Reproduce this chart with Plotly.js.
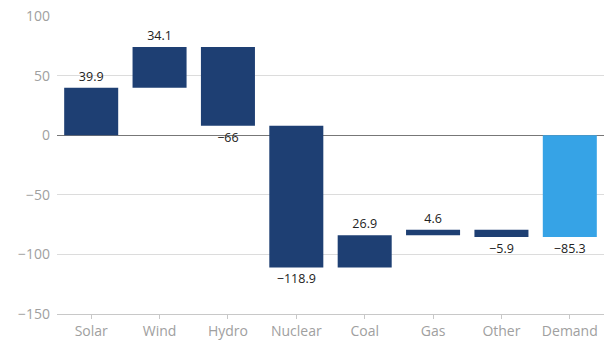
<!DOCTYPE html>
<html><head><meta charset="utf-8">
<script src="https://cdn.plot.ly/plotly-3.0.1.min.js"></script>
<style>html,body{margin:0;padding:0;background:#fff;}#chart{width:608px;height:342px;}</style>
</head><body><div id="chart"></div>
<script>
const categories = ["Solar","Wind","Hydro","Nuclear","Coal","Gas","Other","Demand"];
const values = [39.9, 34.1, -66, -118.9, 26.9, 4.6, -5.9, -85.3];
const measures = ["relative","relative","relative","relative","relative","relative","relative","total"];
const yTicks = [100, 50, 0, -50, -100, -150];

function fmt(v){ return v < 0 ? "\u2212" + Math.abs(v) : String(v); }

const trace = {
  type: "waterfall",
  x: categories,
  y: values,
  measure: measures,
  text: values.map(fmt),
  textposition: "outside",
  textfont: {family: "'Open Sans', sans-serif", size: 12.5, color: "#222"},
  cliponaxis: false,
  width: 0.79,
  connector: {visible: false},
  increasing: {marker: {color: "#1e3f73"}},
  decreasing: {marker: {color: "#1e3f73"}},
  totals: {marker: {color: "#36a3e6"}},
  hoverinfo: "none"
};

const layout = {
  width: 608, height: 342,
  margin: {l: 57, r: 4, t: 16, b: 28},
  paper_bgcolor: "#fff", plot_bgcolor: "#fff",
  showlegend: false,
  font: {family: "'Open Sans', sans-serif"},
  xaxis: {
    showgrid: false,
    showline: true, linecolor: "#c8c8c8", linewidth: 1,
    ticks: "outside", ticklen: 4, tickcolor: "#c8c8c8",
    tickfont: {size: 14, color: "#a0a0a0"},
    anchor: "y", position: 0
  },
  yaxis: {
    range: [-150, 100],
    tickvals: yTicks,
    ticktext: yTicks.map(fmt),
    showgrid: true, gridcolor: "#dcdcdc", gridwidth: 1,
    zeroline: true, zerolinecolor: "#777", zerolinewidth: 1.4,
    showline: false, ticks: "",
    ticklabelstandoff: 6,
    tickfont: {size: 14, color: "#a0a0a0"}
  }
};

Plotly.newPlot("chart", [trace], layout, {displayModeBar: false, staticPlot: true});
</script>
</body></html>
